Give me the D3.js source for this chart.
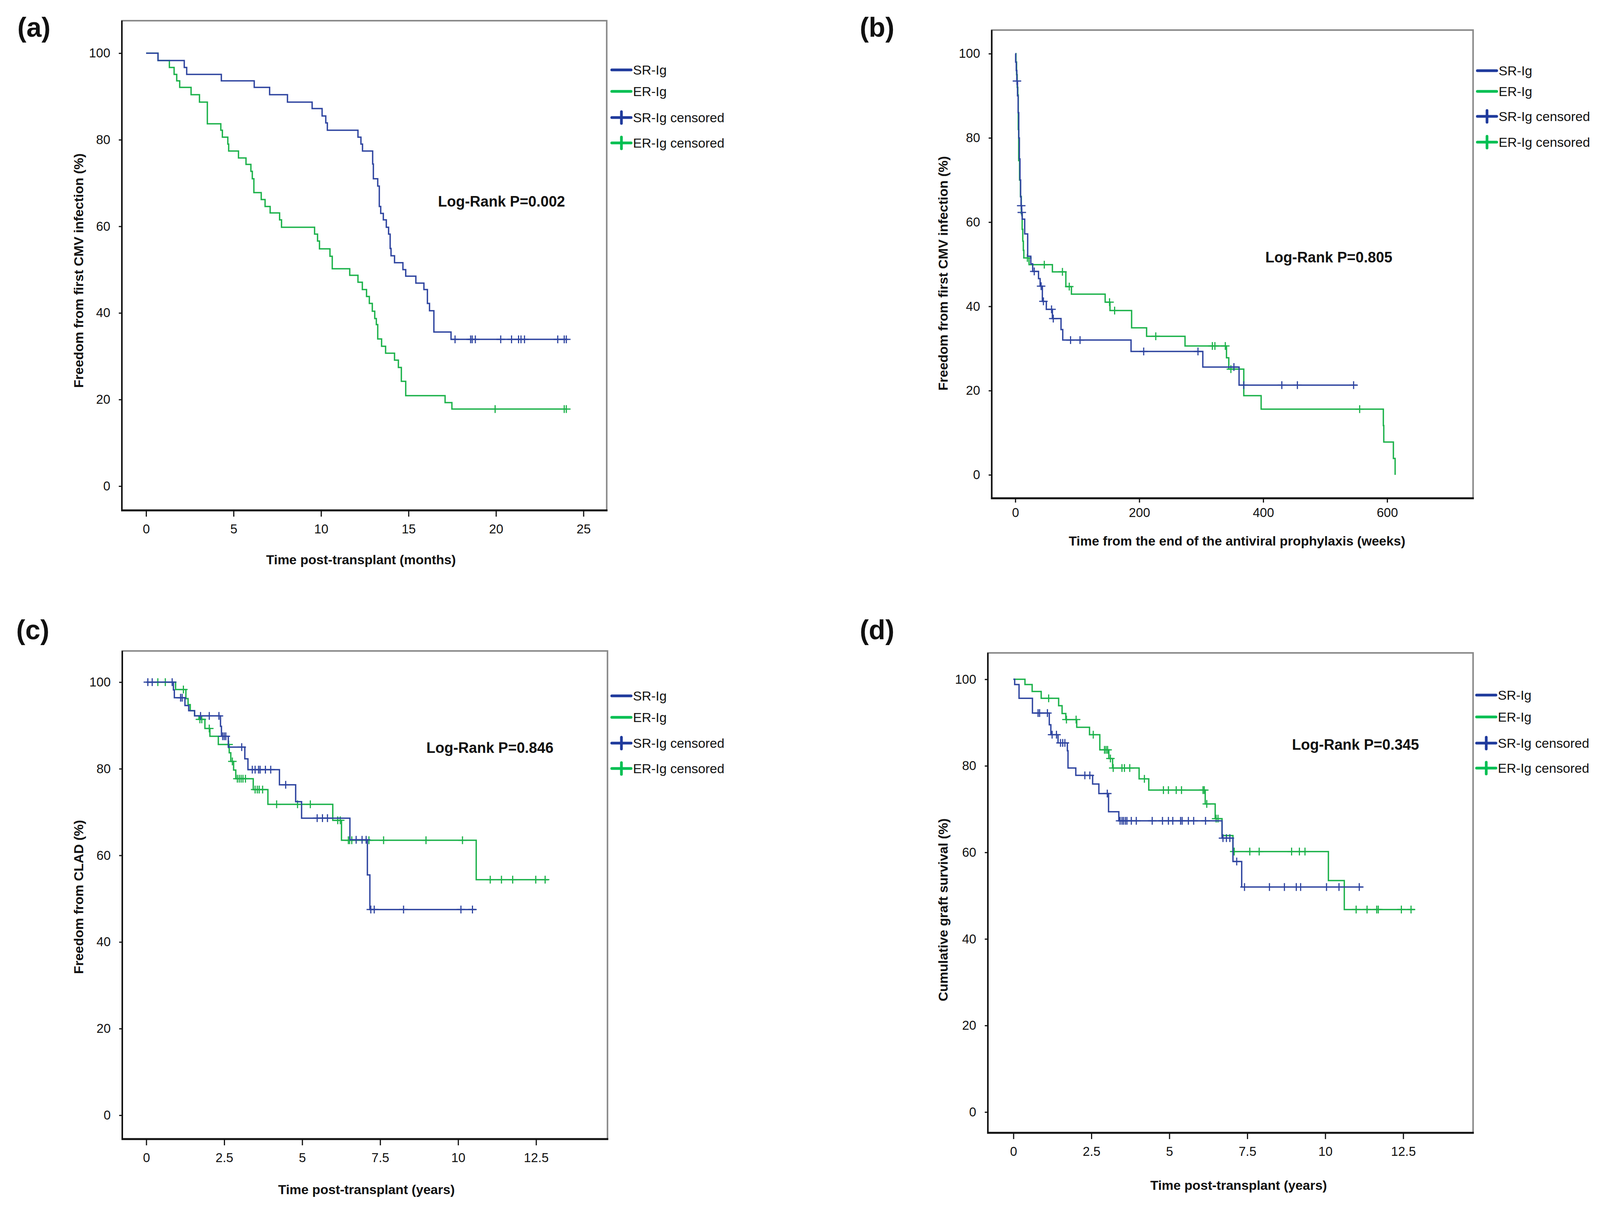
<!DOCTYPE html>
<html>
<head>
<meta charset="utf-8">
<script src="https://cdn.jsdelivr.net/npm/d3@7"></script>
<style>
  html, body { margin: 0; padding: 0; background: #fff; overflow: hidden; }
  svg { display: block; width: 100vw; height: 100vh; font-family: "Liberation Sans", Arial, sans-serif; }
  .tick text { font-size: 33px; fill: #111; }
  .tick line { stroke: #111; stroke-width: 3; }
  .axis-title { font-size: 34px; font-weight: bold; fill: #111; }
  .panel-label { font-size: 70px; font-weight: bold; fill: #111; }
  .logrank { font-size: 38px; font-weight: bold; fill: #111; }
  .legend-label { font-size: 34px; fill: #111; }
  .km { fill: none; stroke-width: 3.5; }
  .cens { stroke-width: 3; }
</style>
</head>
<body>
<svg id="fig" viewBox="0 0 4135 3114" preserveAspectRatio="none"></svg>
<script>
// ── data: [time, survival % after the event] ─────────────────────────────────

// (a) first CMV infection, months
const aSR = [[0,100],[0.68,98.3],[2.18,96.7],[2.32,95.1],[4.3,93.6],[6.18,92.1],[7.06,90.4],[8.08,88.7],
  [9.49,87.2],[10.06,85.5],[10.27,83.9],[10.36,82.2],[12.11,80.6],[12.28,79.0],[12.37,77.4],[12.95,74.4],
  [12.99,71.0],[13.24,69.3],[13.33,64.6],[13.41,63.0],[13.56,61.5],[13.73,59.8],[13.86,58.2],[13.95,54.9],
  [14.0,53.2],[14.2,51.6],[14.68,50.0],[14.84,48.5],[15.42,46.9],[15.88,45.4],[16.08,42.2],[16.2,40.5],
  [16.45,35.6],[17.43,33.9]];
const aSRend = 24.02;
const aSRcens = [17.66,18.55,18.64,18.82,20.27,20.89,21.29,21.43,21.63,23.53,23.9,24.02];

const aER = [[0,100],[0.68,98.3],[1.33,96.7],[1.6,95.1],[1.75,93.6],[1.92,92.1],[2.57,90.4],[3.05,88.7],
  [3.5,83.7],[4.27,82.2],[4.36,80.6],[4.67,79.0],[4.72,77.4],[5.28,75.8],[5.71,74.3],[5.99,72.7],[6.07,71.0],
  [6.16,67.8],[6.58,66.2],[6.8,64.6],[7.09,63.1],[7.63,61.5],[7.74,59.8],[9.63,58.2],[9.8,56.6],[9.91,54.8],
  [10.51,53.1],[10.64,50.2],[11.64,48.7],[12.11,47.1],[12.36,45.4],[12.6,43.8],[12.76,42.2],[12.93,40.4],
  [13.07,38.7],[13.16,37.3],[13.24,34.0],[13.46,32.3],[13.69,30.7],[14.2,29.1],[14.42,27.4],[14.59,24.2],
  [14.84,20.9],[17.09,19.3],[17.48,17.8]];
const aERend = 24.02;
const aERcens = [19.95,23.9,24.02];

// (b) first CMV infection, weeks after prophylaxis
const bSR = [[0,100],[0.5,98],[1.5,96],[2.4,93.5],[3.5,90],[4.5,86],[5.5,80],[6.5,75],[7.5,70],[8.5,66],
  [9.3,63.9],[10.2,62.3],[11,60.7],[15.1,57.2],[19.9,51.9],[25,50.1],[28,48.3],[37.4,46.6],[40,44.8],
  [43.6,41.2],[50,39.3],[59.8,37.1],[73.7,34.5],[76.5,32.0],[186.7,29.3],[302.5,25.6],[361,21.3]];
const bSRend = 551;
const bSRcens = [2.6,9.5,10.4,30.5,41.6,45.3,58.4,61.2,89.1,104.4,207.1,294.7,352.7,368.6,430,455.1,545.8];

const bER = [[0,100],[1,98],[2,95],[3,92],[4,90.2],[4.7,82],[5.4,74.6],[6.8,70],[8.2,66.1],[9.6,62],
  [11,58.3],[12,55.5],[12.9,53.3],[13.7,51.5],[22.1,49.9],[59.8,48.2],[81.5,44.7],[90.5,42.9],[144.9,41.0],
  [152.7,39.0],[187.6,34.9],[211.8,32.9],[273.8,30.6],[340.7,27.8],[344.4,25.1],[368.6,18.8],[396.6,15.6],
  [593.8,11.7],[594.5,7.8],[610,3.9],[612.8,0]];
const bERend = 612.8;
const bERcens = [19.4,46.7,76,87,152,160.2,226.6,317.9,322,338.8,347.8,555.6];

// (c) CLAD, years
const cSR = [[0,100],[0.87,98.2],[0.9,96.4],[1.24,94.6],[1.36,93.4],[1.55,92.2],[2.38,89.8],[2.41,87.5],
  [2.63,85.0],[3.16,82.3],[3.26,79.8],[4.27,76.3],[4.79,72.4],[4.98,68.6],[6.53,63.6],[7.09,55.5],[7.17,47.5]];
const cSRend = 10.57;
const cSRcens = [0.05,0.19,0.83,1.1,1.15,1.74,2.02,2.33,2.45,2.5,2.55,3.06,3.4,3.49,3.6,3.65,3.82,3.99,
  4.47,5.48,5.65,5.81,6.73,6.92,7.05,7.2,7.31,8.25,10.09,10.46];

const cER = [[0,100],[0.94,98.3],[1.27,96.2],[1.34,94.8],[1.41,93.4],[1.55,92.2],[1.69,91.4],[1.88,89.3],
  [2.04,87.5],[2.31,85.6],[2.66,83.7],[2.71,81.7],[2.8,79.7],[2.87,77.7],[3.43,75.2],[3.9,71.8],[5.98,68.1],
  [6.26,63.5],[10.58,54.4]];
const cERend = 12.9;
const cERcens = [0.37,0.61,1.19,1.72,1.78,2.02,2.64,2.76,2.92,2.98,3.04,3.1,3.18,3.49,3.56,3.62,3.73,4.18,
  4.85,5.26,6.14,6.22,6.48,6.52,6.59,7.14,7.61,8.97,10.14,11.03,11.39,11.75,12.49,12.79];

// (d) graft survival, years
const dSR = [[0,100],[0.04,98.8],[0.18,95.6],[0.61,92.2],[1.15,89.5],[1.2,87.2],[1.43,85.3],[1.73,83.5],
  [1.75,79.5],[2.0,77.8],[2.54,75.8],[2.74,73.6],[3.05,69.4],[3.38,67.3],[6.69,63.3],[7.04,57.9],[7.32,52.0]];
const dSRend = 11.2;
const dSRcens = [0.79,0.84,1.09,1.24,1.38,1.51,1.58,1.65,2.29,2.45,3.01,3.42,3.48,3.53,3.59,3.64,3.78,3.94,
  4.45,4.78,4.97,5.11,5.36,5.41,5.61,5.78,6.16,6.72,6.83,6.94,7.16,7.41,8.21,8.69,9.07,9.21,10.04,10.44,11.09];

const dER = [[0,100],[0.37,98.8],[0.6,97.2],[0.89,95.6],[1.45,93.9],[1.56,92.1],[1.68,90.7],[2.03,88.9],
  [2.44,87.2],[2.77,83.7],[3.06,81.7],[3.18,79.5],[4.03,77.0],[4.34,74.4],[6.15,71.2],[6.47,67.8],[6.69,63.9],
  [7.04,60.2],[10.1,53.5],[10.61,46.8]];
const dERend = 12.87;
const dERcens = [1.13,1.7,2.01,2.56,2.92,2.97,3.02,3.11,3.2,3.48,3.56,3.73,4.2,4.81,4.97,5.22,5.39,6.08,
  6.12,6.2,6.5,6.56,7.08,7.58,7.88,8.92,9.17,9.35,10.99,11.34,11.65,11.7,12.44,12.75];

const yTicks = [0, 20, 40, 60, 80, 100];
const monthTicks = [0, 5, 10, 15, 20, 25];
const weekTicks = [0, 200, 400, 600];
const yearTicks = [0, 2.5, 5, 7.5, 10, 12.5];
const legendLabels = ['SR-Ig', 'ER-Ig', 'SR-Ig censored', 'ER-Ig censored'];

const BLUE = '#2f45a0';
const GREEN = '#1db24b';
const BLUE_KEY = '#1f3a9c';
const GREEN_KEY = '#00bf52';

// ── panel layout ─────────────────────────────────────────────────────────────

const panels = [
  {label: '(a)', labelPos: [45, 94],
   box: {l: 315, t: 53, r: 1568, b: 1307}, xDom: [-1.385, 26.33], yDom: [-5.6, 107.5],
   xTicks: monthTicks, xTickLen: 16, xPad: 20,
   xTitle: 'Time post-transplant (months)', xTitlePos: [933, 1445],
   yTitle: 'Freedom from first CMV infection (%)', yTitlePos: [203, 693],
   logrank: 'Log-Rank P=0.002', logrankPos: [1132, 529],
   legend: {x: 1581, rows: [179, 234, 301, 366]},
   sr: [aSR, aSRend, aSRcens], er: [aER, aERend, aERcens]},
  {label: '(b)', labelPos: [2222, 94],
   box: {l: 2563, t: 77, r: 3807, b: 1276}, xDom: [-38.1, 738.6], yDom: [-5.56, 105.6],
   xTicks: weekTicks, xTickLen: 11, xPad: 14,
   xTitle: 'Time from the end of the antiviral prophylaxis (weeks)', xTitlePos: [3197, 1397],
   yTitle: 'Freedom from first CMV infection (%)', yTitlePos: [2437, 700],
   logrank: 'Log-Rank P=0.805', logrankPos: [3270, 672],
   legend: {x: 3818, rows: [181, 234, 298, 364]},
   sr: [bSR, bSRend, bSRcens], er: [bER, bERend, bERcens]},
  {label: '(c)', labelPos: [42, 1637],
   box: {l: 316, t: 1667, r: 1570, b: 2917}, xDom: [-0.77, 14.79], yDom: [-5.5, 107.2],
   xTicks: yearTicks, xTickLen: 16, xPad: 20,
   xTitle: 'Time post-transplant (years)', xTitlePos: [947, 3058],
   yTitle: 'Freedom from CLAD (%)', yTitlePos: [203, 2297],
   logrank: 'Log-Rank P=0.846', logrankPos: [1102, 1928],
   legend: {x: 1581, rows: [1782, 1837, 1903, 1968]},
   sr: [cSR, cSRend, cSRcens], er: [cER, cERend, cERcens]},
  {label: '(d)', labelPos: [2222, 1637],
   box: {l: 2553, t: 1672, r: 3807, b: 2901}, xDom: [-0.82, 14.74], yDom: [-4.8, 106.1],
   xTicks: yearTicks, xTickLen: 16, xPad: 20,
   xTitle: 'Time post-transplant (years)', xTitlePos: [3201, 3047],
   yTitle: 'Cumulative graft survival (%)', yTitlePos: [2437, 2330],
   logrank: 'Log-Rank P=0.345', logrankPos: [3339, 1920],
   legend: {x: 3816, rows: [1780, 1836, 1903, 1967]},
   sr: [dSR, dSRend, dSRcens], er: [dER, dERend, dERcens]},
];

const svg = d3.select('#fig');
svg.append('rect').attr('width', 4135).attr('height', 3114).attr('fill', '#fff');

// survival at time t for a step list
function survAt(steps, t) {
  let v = steps[0][1];
  for (const [ti, vi] of steps) { if (ti <= t) v = vi; else break; }
  return v;
}

panels.forEach(p => {
  const x = d3.scaleLinear().domain(p.xDom).range([p.box.l, p.box.r]);
  const y = d3.scaleLinear().domain(p.yDom).range([p.box.b, p.box.t]);
  const g = svg.append('g');

  // frame: grey top/right, black axes left/bottom
  g.append('rect')
    .attr('x', p.box.l).attr('y', p.box.t)
    .attr('width', p.box.r - p.box.l).attr('height', p.box.b - p.box.t)
    .attr('fill', 'none').attr('stroke', '#8a8a8a').attr('stroke-width', 4);

  const yAxis = g.append('g')
    .attr('transform', `translate(${p.box.l},0)`)
    .call(d3.axisLeft(y).tickValues(yTicks).tickSize(8).tickPadding(22));
  const xAxis = g.append('g')
    .attr('transform', `translate(0,${p.box.b})`)
    .call(d3.axisBottom(x).tickValues(p.xTicks).tickSize(p.xTickLen).tickPadding(p.xPad)
      .tickFormat(d3.format('~g')));
  [yAxis, xAxis].forEach(a => {
    a.select('.domain').remove();
    a.attr('font-family', null).attr('font-size', null);
  });
  g.append('line').attr('x1', p.box.l).attr('x2', p.box.l).attr('y1', p.box.t).attr('y2', p.box.b + 2)
    .attr('stroke', '#111').attr('stroke-width', 4);
  g.append('line').attr('x1', p.box.l - 2).attr('x2', p.box.r + 2).attr('y1', p.box.b).attr('y2', p.box.b)
    .attr('stroke', '#111').attr('stroke-width', 5);

  const line = d3.line().x(d => x(d[0])).y(d => y(d[1])).curve(d3.curveStepAfter);

  [[p.er, GREEN], [p.sr, BLUE]].forEach(([[steps, end, cens], col]) => {
    const pts = steps.concat([[end, steps[steps.length - 1][1]]]);
    g.append('path').attr('class', 'km').attr('stroke', col).attr('d', line(pts));
    const c = g.append('g').attr('stroke', col).attr('class', 'cens');
    cens.forEach(t => {
      const cx = x(t), cy = y(survAt(steps, t));
      c.append('line').attr('x1', cx).attr('x2', cx).attr('y1', cy - 10).attr('y2', cy + 10);
      c.append('line').attr('x1', cx - 11).attr('x2', cx + 11).attr('y1', cy).attr('y2', cy);
    });
  });

  // texts
  g.append('text').attr('class', 'panel-label').attr('x', p.labelPos[0]).attr('y', p.labelPos[1]).text(p.label);
  g.append('text').attr('class', 'logrank').attr('x', p.logrankPos[0]).attr('y', p.logrankPos[1]).text(p.logrank);
  g.append('text').attr('class', 'axis-title').attr('text-anchor', 'middle')
    .attr('x', p.xTitlePos[0]).attr('y', p.xTitlePos[1]).text(p.xTitle);
  g.append('text').attr('class', 'axis-title').attr('text-anchor', 'middle').attr('dy', '0.35em')
    .attr('transform', `translate(${p.yTitlePos[0]},${p.yTitlePos[1]}) rotate(-90)`).text(p.yTitle);

  // legend
  const lg = g.append('g');
  legendLabels.forEach((lab, i) => {
    const ry = p.legend.rows[i];
    const col = i % 2 === 0 ? BLUE_KEY : GREEN_KEY;
    lg.append('line').attr('x1', p.legend.x).attr('x2', p.legend.x + 50).attr('y1', ry).attr('y2', ry)
      .attr('stroke', col).attr('stroke-width', 7).attr('stroke-linecap', 'round');
    if (i >= 2) {
      lg.append('line').attr('x1', p.legend.x + 25).attr('x2', p.legend.x + 25).attr('y1', ry - 15).attr('y2', ry + 15)
        .attr('stroke', col).attr('stroke-width', 7).attr('stroke-linecap', 'round');
    }
    lg.append('text').attr('class', 'legend-label').attr('x', p.legend.x + 55).attr('y', ry).attr('dy', '0.36em').text(lab);
  });
});
</script>
</body>
</html>
